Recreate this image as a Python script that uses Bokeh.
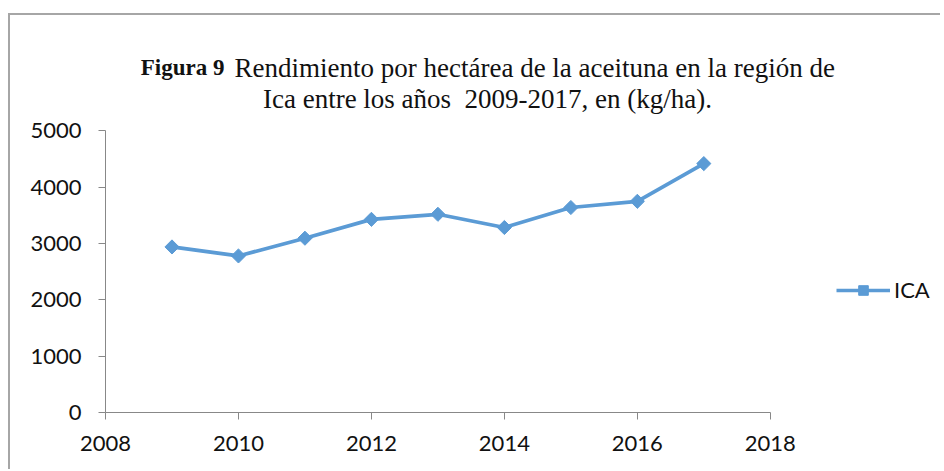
from bokeh.plotting import figure
from bokeh.models import SingleIntervalTicker, Range1d, Legend, LegendItem, Label
from bokeh.layouts import column
from bokeh.embed import file_html
from bokeh.resources import INLINE
import numpy as np

# ---- data ----
years = [2009, 2010, 2011, 2012, 2013, 2014, 2015, 2016, 2017]
ica = [2940, 2780, 3095, 3430, 3520, 3285, 3640, 3750, 4420]
series_name = "ICA"
x_axis_bounds = (2008, 2018)
y_axis_bounds = (0, 5000)
title_bold = "Figura 9"
title_line1 = "Rendimiento por hectárea de la aceituna en la región de"
title_line2 = "Ica entre los años\u00a0 2009-2017, en (kg/ha)."

BLUE = "#5B9BD5"
GREY = "#888888"
TICK_FONT = "Lato"
SERIF = "Liberation Serif"

# The frame spans the whole chart area (title and legend live inside it);
# the axes are limited to their own bounds.
p = figure(width=930, height=454, output_backend="svg", toolbar_location=None,
           x_range=Range1d(2008, 2020.5), y_range=Range1d(0, 7050),
           min_border_left=95, min_border_right=4, min_border_top=0,
           min_border_bottom=57)
p.outline_line_color = None
p.grid.visible = False
p.background_fill_color = "white"
p.border_fill_color = "white"

for ax, interval, bounds in ((p.xaxis[0], 2, x_axis_bounds),
                             (p.yaxis[0], 1000, y_axis_bounds)):
    ax.ticker = SingleIntervalTicker(interval=interval)
    ax.bounds = bounds
    ax.axis_line_color = GREY
    ax.major_tick_line_color = GREY
    ax.minor_tick_line_color = None
    ax.major_tick_in = 0
    ax.major_tick_out = 7
    ax.major_label_text_font = TICK_FONT
    ax.major_label_text_font_size = "22px"
    ax.major_label_text_color = "#111111"
p.xaxis.major_label_standoff = 16
p.yaxis.major_label_standoff = 17

line = p.line(years, ica, line_color=BLUE, line_width=3.7)
pts = p.scatter(years, ica, marker="square", angle=np.pi / 4, size=10,
                fill_color=BLUE, line_color=BLUE)

legend = Legend(items=[LegendItem(label=series_name, renderers=[line, pts])],
                location=(731, 109), padding=0, margin=0, spacing=0,
                glyph_width=54, glyph_height=24, label_standoff=4,
                border_line_color=None, background_fill_alpha=0,
                label_text_font=TICK_FONT, label_text_font_size="22px",
                label_text_color="#111111")
p.add_layout(legend, "center")

# title (screen units, measured from the frame's bottom-left corner)
p.add_layout(Label(x=119, y=345, x_units="screen", y_units="screen", text=title_bold,
                   text_font=SERIF, text_font_style="bold", text_font_size="23px",
                   text_align="right", text_baseline="alphabetic", text_color="#111111"))
p.add_layout(Label(x=129, y=345, x_units="screen", y_units="screen", text=title_line1,
                   text_font=SERIF, text_font_size="27px", text_align="left",
                   text_baseline="alphabetic", text_color="#111111"))
p.add_layout(Label(x=382, y=314, x_units="screen", y_units="screen", text=title_line2,
                   text_font=SERIF, text_font_size="27px", text_align="center",
                   text_baseline="alphabetic", text_color="#111111"))

layout = column(p, styles={"margin-left": "8px", "margin-top": "13px",
                           "border-left": "2px solid #a6a6a6",
                           "border-top": "2px solid #a6a6a6"})

open("out.html", "w").write(file_html(layout, INLINE))
